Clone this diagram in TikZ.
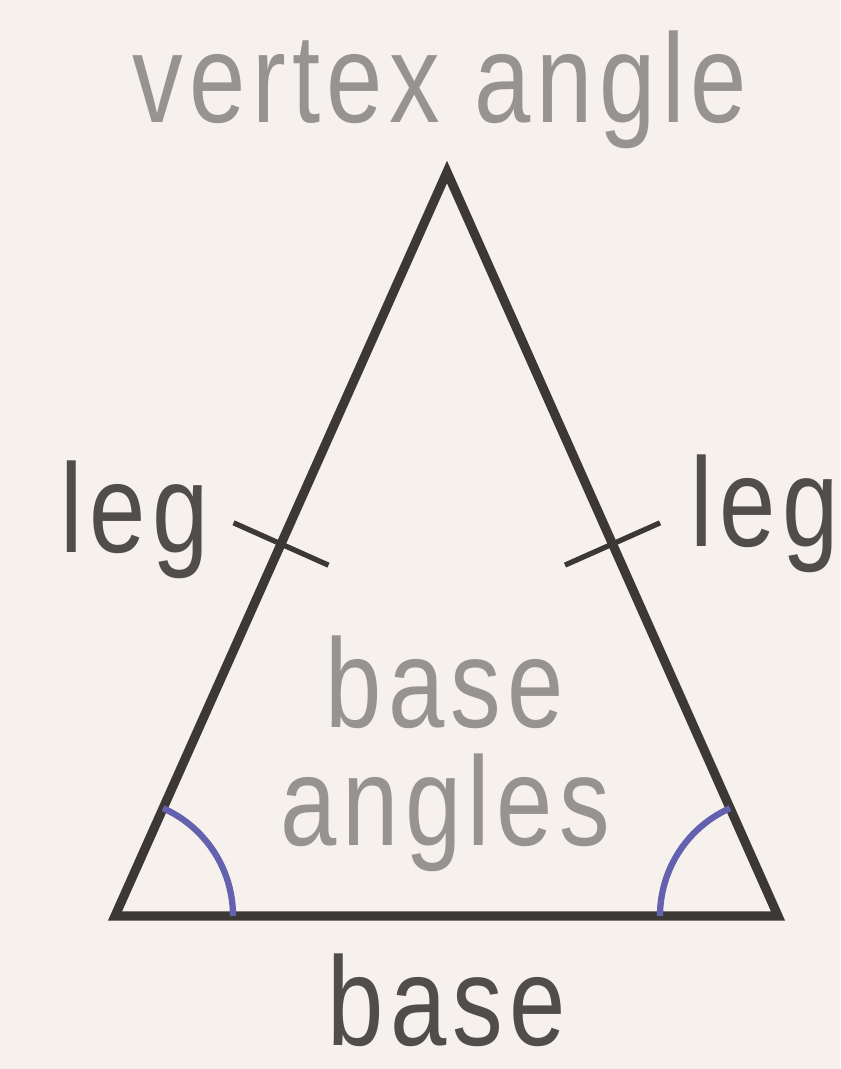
\documentclass[tikz,border=0pt]{standalone}
\usepackage{fontspec}
\setmainfont[FakeStretch=0.8,LetterSpace=5]{Liberation Sans}
\usepackage{tikz}
\usetikzlibrary{calc,angles,positioning}
\definecolor{paper}{RGB}{246,241,237}
\definecolor{inkdark}{RGB}{60,56,54}
\definecolor{inklabel}{RGB}{80,78,76}
\definecolor{inklight}{RGB}{150,148,146}
\definecolor{arcblue}{RGB}{100,98,175}
\tikzset{
  side/.style={draw=inkdark, line width=2.6pt, line join=miter},
  tickmark/.style={draw=inkdark, line width=1.5pt},
  anglearc/.style={draw=arcblue, line width=1.8pt, angle radius=1.18cm},
  lbldark/.style={text=inklabel, inner sep=0pt, font=\fontsize{36}{41}\selectfont},
  lbllight/.style={lbldark, text=inklight}
}
\begin{document}
\begin{tikzpicture}
  % page and background
  \fill[paper] (0,0) rectangle (8.4,10.69);
  \useasboundingbox (0,0) rectangle (8.4,10.69);

  % vertices
  \coordinate (bl)  at (1.15,1.53);
  \coordinate (br)  at (7.78,1.53);
  \coordinate (top) at (4.47,8.97);

  % triangle
  \draw[side] (bl) -- (top) -- (br) -- cycle;

  % congruent legs
  \coordinate (ml) at ($(bl)!0.5!(top)$);
  \coordinate (mr) at ($(br)!0.5!(top)$);
  \draw[tickmark] ($(ml)!0.52cm!90:(top)$) -- ($(ml)!0.52cm!-90:(top)$);
  \draw[tickmark] ($(mr)!0.52cm!90:(top)$) -- ($(mr)!0.52cm!-90:(top)$);

  % base angles
  \pic[anglearc] {angle = br--bl--top};
  \pic[anglearc] {angle = top--br--bl};

  % labels
  \node[lbllight, anchor=base] (vtx) at (4.40,9.46) {vertex angle};
  \node[lbldark, anchor=base west] (legl) at (0.60,5.16) {leg};
  \node[lbldark, anchor=base west] (legr) at (6.90,5.22) {leg};
  \node[lbllight, anchor=base] (bang) at (4.45,3.41) {base};
  \node[lbllight, below=0.23cm of bang] (bang2) {angles};
  \node[lbldark, anchor=base] (bse) at (4.47,0.24) {base};
\end{tikzpicture}
\end{document}
